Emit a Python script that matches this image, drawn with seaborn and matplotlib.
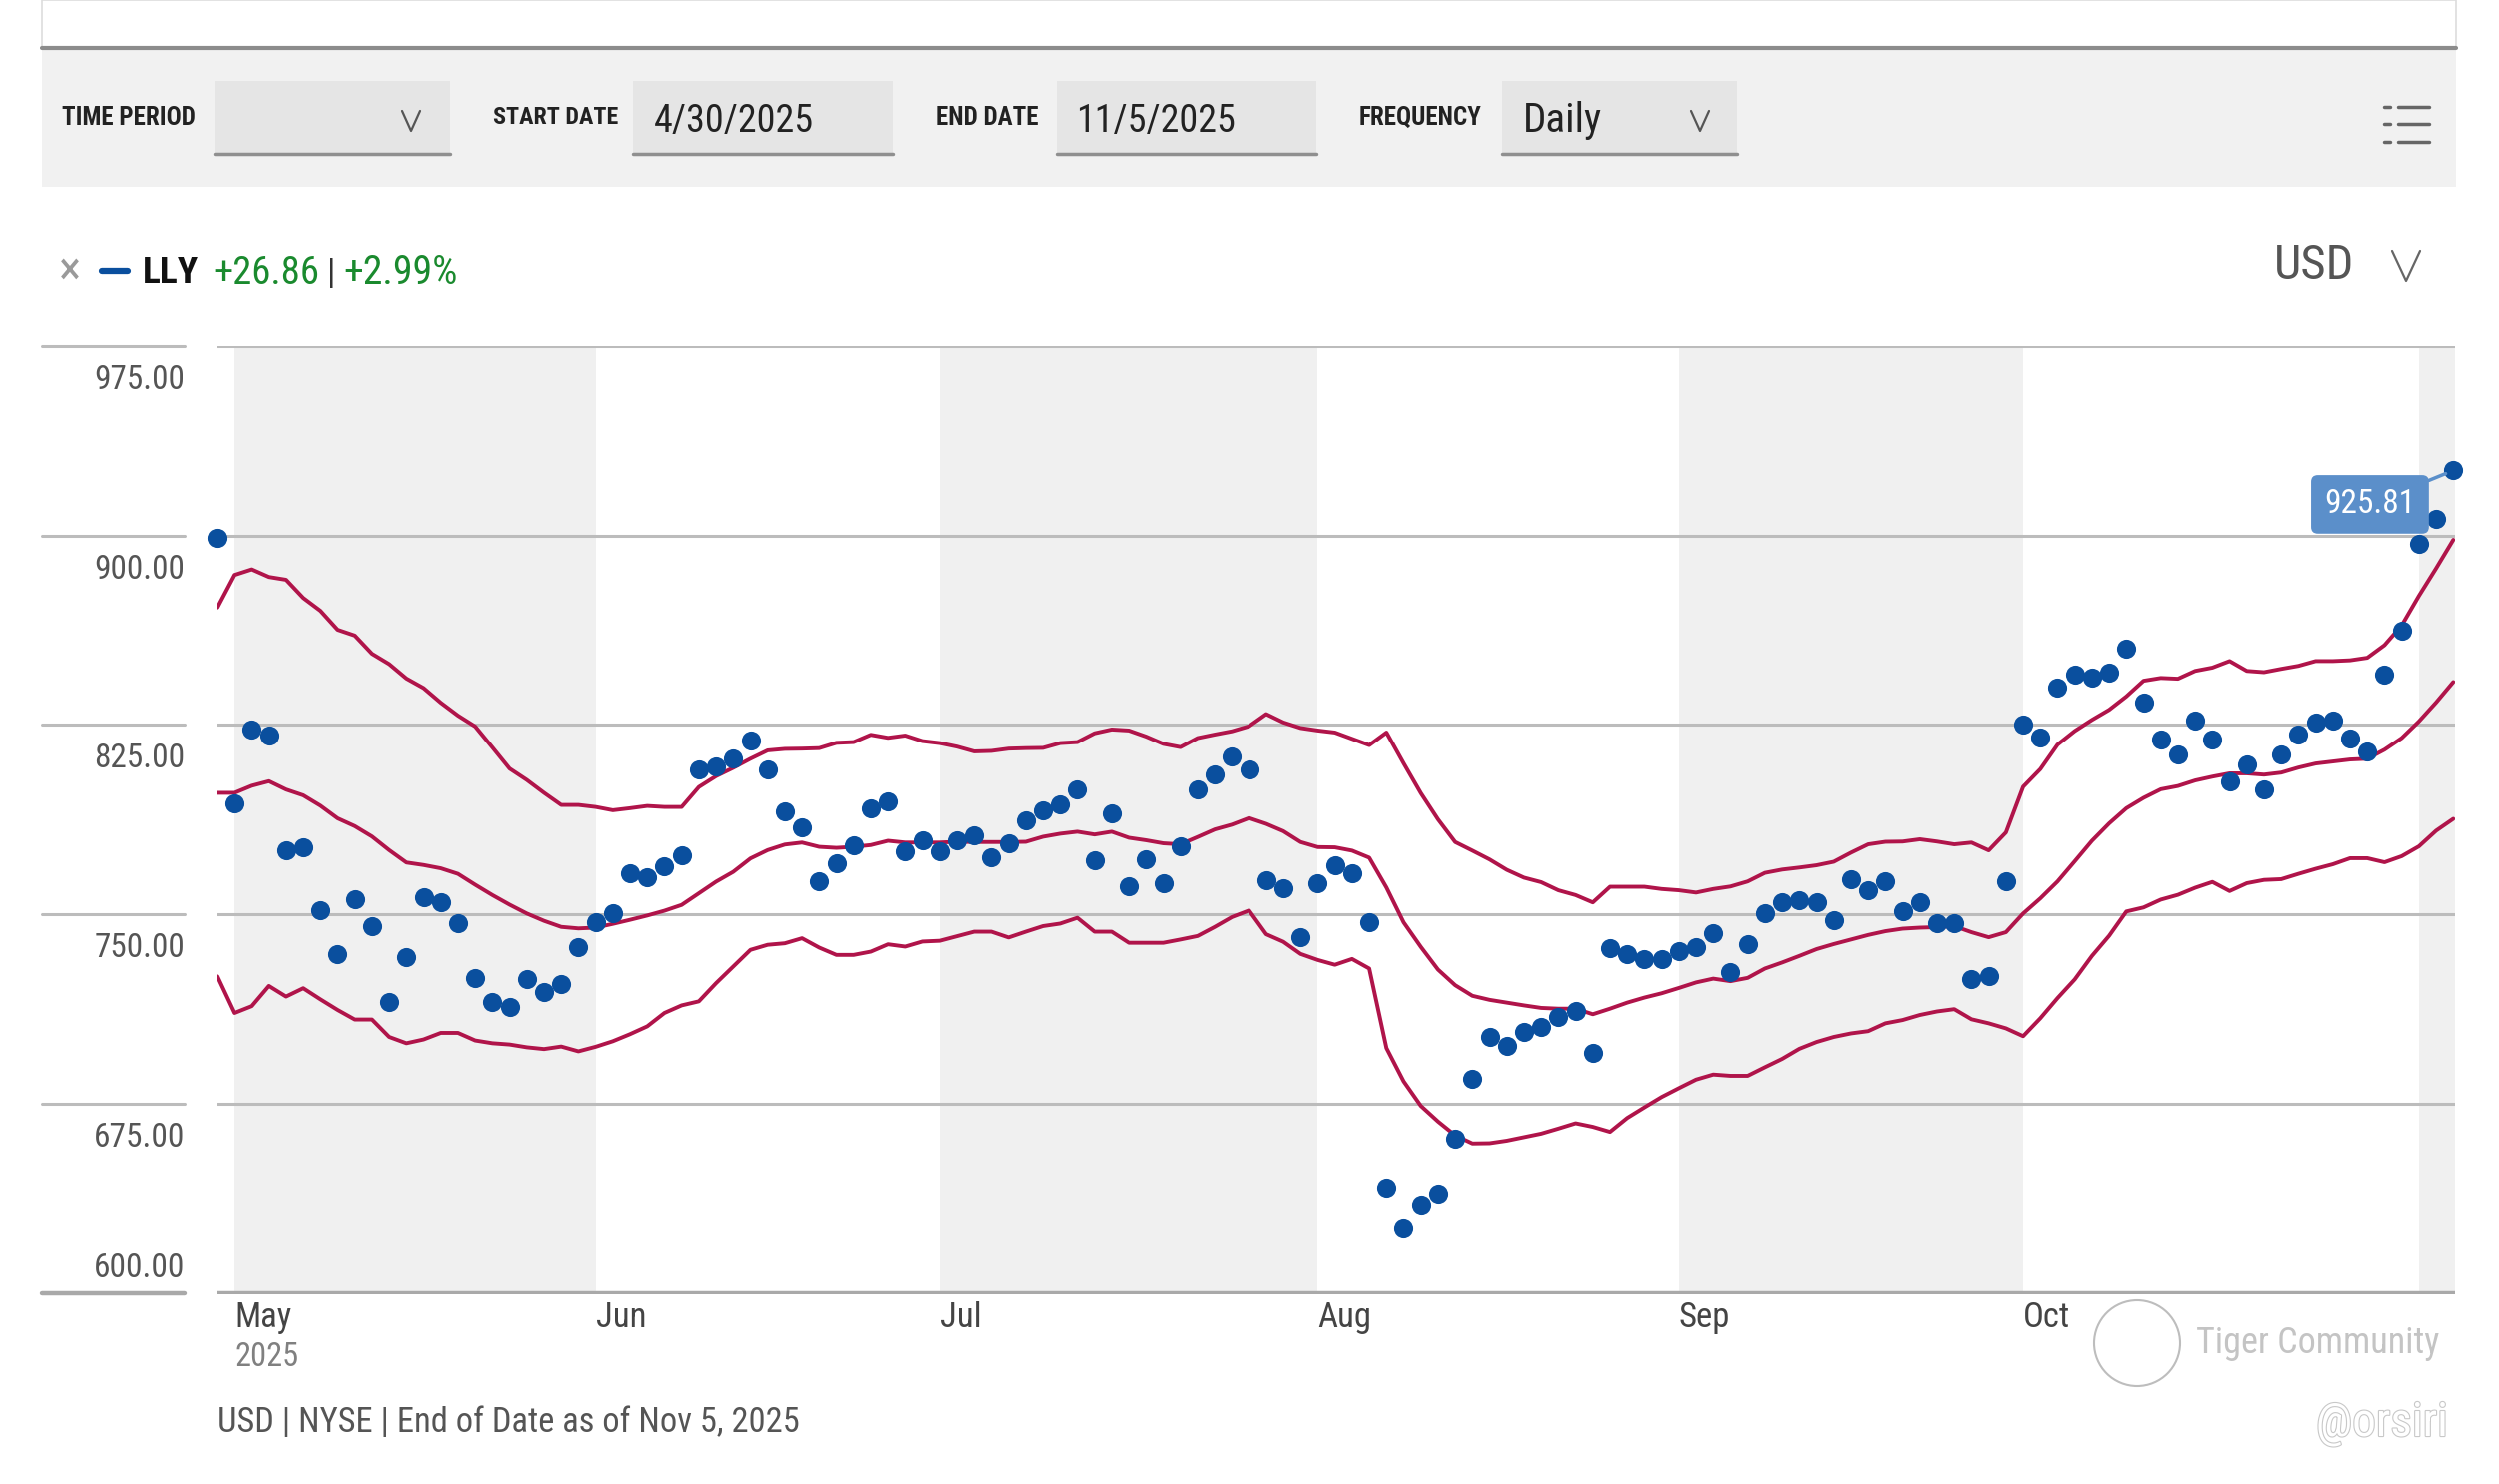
import numpy as np
import pandas as pd
import seaborn as sns
import matplotlib.pyplot as plt
from matplotlib import transforms
from matplotlib.patches import Rectangle, Ellipse
from matplotlib.lines import Line2D
import matplotlib.patheffects as pe

# LLY daily close, 4/30/2025 -> 11/5/2025 (one value per trading day)
close = [898.95, 794.0, 823.2, 820.9, 775.4, 776.6, 751.5, 734.1, 755.8, 745.3,
         715.1, 733.0, 756.9, 754.9, 746.5, 724.7, 715.1, 713.1, 724.5, 719.2,
         722.2, 737.1, 746.7, 750.6, 766.2, 764.6, 769.2, 773.4, 807.4, 808.6,
         811.6, 818.8, 807.4, 790.9, 784.6, 762.9, 770.4, 777.4, 791.8, 794.9,
         775.0, 779.3, 775.0, 779.3, 781.2, 772.5, 778.1, 787.1, 791.1, 793.4,
         799.5, 771.5, 790.1, 761.3, 771.8, 762.4, 776.8, 799.3, 805.4, 812.7,
         807.4, 763.3, 760.3, 740.8, 762.4, 769.4, 766.2, 746.8, 641.6, 626.0,
         635.1, 639.5, 661.0, 684.8, 701.4, 697.7, 703.2, 705.3, 709.2, 711.8,
         694.9, 736.4, 734.3, 732.3, 732.3, 735.3, 737.1, 742.7, 727.1, 738.2,
         750.3, 754.7, 755.6, 754.7, 747.6, 763.9, 759.7, 763.0, 751.2, 754.7,
         746.3, 746.3, 724.4, 725.5, 763.0, 825.3, 819.9, 839.6, 845.0, 843.6,
         845.9, 855.3, 833.9, 819.1, 813.1, 826.6, 819.1, 802.7, 809.2, 799.5,
         813.1, 821.4, 825.8, 826.6, 819.8, 814.4, 844.8, 862.5, 896.9, 906.6,
         925.81]

# Bollinger bands as drawn on the chart
upper = [871.5, 884.4, 886.6, 883.6, 882.5, 875.3, 870.2, 862.7, 860.4, 853.2,
         849.1, 843.4, 839.6, 833.8, 828.7, 824.4, 816.1, 807.7, 803.2, 798.1,
         793.3, 793.3, 792.5, 791.2, 792.0, 792.9, 792.5, 792.5, 800.4, 804.7,
         808.0, 811.6, 814.9, 815.5, 815.6, 815.8, 817.9, 818.2, 821.1, 819.9,
         820.8, 818.6, 817.8, 816.4, 814.5, 814.7, 815.6, 815.8, 815.9, 817.8,
         818.2, 821.7, 823.2, 822.8, 820.4, 817.5, 816.2, 819.8, 821.2, 822.5,
         824.5, 829.3, 826.0, 823.8, 822.8, 822.0, 819.5, 817.0, 822.0, 809.8,
         798.0, 787.6, 778.6, 775.2, 771.7, 767.6, 764.5, 762.7, 759.5, 757.6,
         754.7, 760.9, 760.9, 760.9, 760.0, 759.5, 758.6, 760.0, 761.0, 763.0,
         766.4, 767.7, 768.5, 769.4, 770.8, 774.4, 777.7, 778.7, 778.8, 779.7,
         778.8, 777.7, 778.4, 775.3, 782.4, 800.5, 807.5, 817.2, 822.6, 827.0,
         831.0, 836.3, 842.5, 843.6, 843.3, 846.4, 847.7, 850.3, 846.4, 845.9,
         847.2, 848.4, 850.3, 850.3, 850.6, 851.6, 856.6, 864.4, 876.1, 887.0,
         898.3]

middle = [798.1, 798.1, 800.9, 802.7, 799.4, 797.1, 793.0, 788.0, 784.9, 780.8,
          775.4, 770.5, 769.5, 768.2, 766.0, 761.7, 757.6, 753.8, 750.3, 747.4,
          745.0, 744.4, 744.7, 746.2, 747.8, 749.5, 751.4, 753.7, 758.3, 762.9,
          766.8, 772.1, 775.4, 777.6, 778.4, 776.7, 776.3, 776.7, 777.4, 779.1,
          778.4, 778.4, 778.4, 778.7, 778.6, 778.6, 778.6, 778.7, 780.7, 781.9,
          782.7, 781.6, 782.7, 780.3, 779.3, 778.1, 777.7, 780.6, 783.6, 785.5,
          788.1, 785.8, 782.9, 778.6, 776.6, 776.5, 775.2, 772.4, 760.6, 746.8,
          737.1, 728.1, 721.9, 717.7, 716.1, 715.0, 713.9, 712.9, 712.6, 712.6,
          710.4, 712.6, 715.0, 717.0, 718.7, 720.8, 723.0, 724.5, 723.5, 724.8,
          728.5, 730.9, 733.5, 736.2, 738.2, 740.0, 741.8, 743.3, 744.3, 744.7,
          744.9, 745.3, 742.9, 740.9, 742.9, 750.3, 756.3, 763.0, 771.0, 779.1,
          786.0, 792.0, 796.1, 799.5, 800.8, 803.0, 804.5, 805.8, 805.8, 805.3,
          806.1, 808.1, 809.7, 810.5, 811.3, 811.6, 815.2, 819.8, 826.4, 833.9,
          842.0]

lower = [725.4, 710.9, 713.6, 721.6, 717.4, 720.7, 716.3, 712.1, 708.3, 708.3,
         701.4, 698.9, 700.4, 703.0, 703.0, 700.0, 698.9, 698.4, 697.3, 696.6,
         697.6, 695.7, 697.5, 699.7, 702.5, 705.6, 710.9, 713.9, 715.5, 722.7,
         729.3, 735.9, 737.9, 738.5, 740.5, 736.8, 733.9, 733.9, 735.2, 738.1,
         737.2, 739.2, 739.5, 741.3, 743.1, 743.1, 740.8, 743.1, 745.3, 746.3,
         748.6, 743.1, 743.1, 738.7, 738.7, 738.7, 740.0, 741.4, 745.0, 748.9,
         751.5, 742.1, 739.1, 734.3, 731.9, 730.0, 732.3, 728.5, 697.0, 683.8,
         674.1, 667.9, 662.4, 659.2, 659.3, 660.3, 661.7, 663.1, 665.1, 667.2,
         665.8, 663.8, 669.3, 673.5, 677.6, 681.1, 684.5, 686.5, 686.0, 686.0,
         689.4, 692.7, 696.7, 699.4, 701.4, 702.8, 703.7, 706.8, 708.1, 710.1,
         711.5, 712.4, 708.4, 706.8, 704.8, 701.7, 708.8, 716.8, 724.2, 733.5,
         741.5, 751.1, 752.7, 755.8, 757.7, 760.5, 762.8, 759.2, 762.3, 763.6,
         763.9, 766.0, 768.0, 769.8, 772.2, 772.2, 770.6, 773.0, 776.9, 783.1,
         787.8]

month_labels = ["May", "Jun", "Jul", "Aug", "Sep", "Oct"]
month_start = [1, 22, 42, 64, 85, 105, 128]   # index of first trading day (last one = Nov)
y_ticks = [600, 675, 750, 825, 900, 975]

df = pd.DataFrame({"day": np.arange(len(close)), "close": close,
                   "upper": upper, "middle": middle, "lower": lower})

sns.set_theme(style="white")
# condensed faces first, whichever is installed gets used
plt.rcParams["font.family"] = ["Liberation Sans Narrow", "Roboto Condensed",
                               "Roboto", "DejaVu Sans"]

W, H = 2500, 1485
fig = plt.figure(figsize=(W / 100, H / 100), dpi=100)
renderer = fig.canvas.get_renderer()


def fx(px):
    return px / W


def fy(py):
    return 1 - py / H


def fit(t, target_w):
    # shrink a text so it is not much wider than in the reference
    w = t.get_window_extent(renderer).width
    if w > target_w * 1.06:
        t.set_fontsize(t.get_fontsize() * target_w * 1.06 / w)
    return t


def right_end(t):
    return t.get_window_extent(renderer).x1


def chevron(x, y, w=18, h=20, color="#555555"):
    fig.add_artist(Line2D([fx(x - w / 2), fx(x), fx(x + w / 2)],
                          [fy(y - h / 2), fy(y + h / 2), fy(y - h / 2)],
                          transform=fig.transFigure, color=color, lw=1.6))


# header box and toolbar
fig.add_artist(Rectangle((fx(42), fy(48)), fx(2457) - fx(42), fy(0) - fy(48),
                         transform=fig.transFigure, fc="white", ec="#dddddd", lw=1.2))
fig.add_artist(Rectangle((fx(42), fy(187)), fx(2457) - fx(42), fy(50) - fy(187),
                         transform=fig.transFigure, fc="#f1f1f1", ec="none"))
fig.add_artist(Line2D([fx(42), fx(2457)], [fy(48), fy(48)], transform=fig.transFigure,
                      color="#8c8c8c", lw=3))

for x0, x1 in [(215, 450), (633, 893), (1057, 1317), (1503, 1738)]:
    fig.add_artist(Rectangle((fx(x0), fy(155)), fx(x1) - fx(x0), fy(81) - fy(155),
                             transform=fig.transFigure, fc="#e5e5e5", ec="none"))
    fig.add_artist(Line2D([fx(x0), fx(x1)], [fy(154), fy(154)], transform=fig.transFigure,
                          color="#8f8f8f", lw=2.5))

for label, x, w in [("TIME PERIOD", 62, 131), ("START DATE", 493, 118),
                    ("END DATE", 936, 99), ("FREQUENCY", 1360, 123)]:
    fit(fig.text(fx(x), fy(118), label, fontsize=18, fontweight="bold", color="#222222",
                 ha="left", va="center"), w)
for label, x, w in [("4/30/2025", 654, 151), ("11/5/2025", 1076, 151), ("Daily", 1524, 75)]:
    fit(fig.text(fx(x), fy(121), label, fontsize=30, color="#222222",
                 ha="left", va="center"), w)
chevron(411, 121)
chevron(1701, 121)

# list icon on the right of the toolbar
for y in [107, 124, 142]:
    fig.add_artist(Line2D([fx(2385), fx(2391)], [fy(y), fy(y)], transform=fig.transFigure,
                          color="#666666", lw=2.5))
    fig.add_artist(Line2D([fx(2399), fx(2430)], [fy(y), fy(y)], transform=fig.transFigure,
                          color="#666666", lw=2.5))

# series header row, pieces chained left to right
fig.text(fx(70), fy(271), "\u00d7", fontsize=34, color="#9a9a9a", ha="center", va="center")
fig.add_artist(Line2D([fx(102), fx(128)], [fy(271), fy(271)], transform=fig.transFigure,
                      color="#0a4f9e", lw=4.5))
x = 143
for s, color, weight, w, gap in [("LLY", "#111111", "bold", 53, 14),
                                 ("+26.86", "#1a8a2e", "normal", 100, 8),
                                 ("|", "#333333", "normal", 8, 8),
                                 ("+2.99%", "#1a8a2e", "normal", 108, 0)]:
    t = fit(fig.text(fx(x), fy(273), s, fontsize=29, color=color, fontweight=weight,
                     va="center"), w)
    x = right_end(t) + gap
fit(fig.text(fx(2275), fy(266), "USD", fontsize=35, color="#555555", va="center"), 80)
chevron(2407, 266, w=28, h=30, color="#666666")

# chart area
ax = fig.add_axes([fx(217), fy(1294.5), fx(2456) - fx(217), fy(346) - fy(1294.5)])
xmax = 130.1
ax.set_xlim(0, xmax)
ax.set_ylim(600, 975)

bounds = month_start + [xmax]
for k in range(0, len(month_start), 2):
    ax.axvspan(bounds[k], bounds[k + 1], color="#f0f0f0", lw=0, zorder=0)

for v in y_ticks:
    ax.axhline(v, color="#a9a9a9" if v == 600 else "#bcbcbc",
               lw=3.2 if v == 600 else 2.2, zorder=1)

band_color = "#b0144a"
for col in ["upper", "middle", "lower"]:
    sns.lineplot(data=df, x="day", y=col, ax=ax, color=band_color, lw=2.8,
                 estimator=None, sort=False, zorder=2)
sns.scatterplot(data=df, x="day", y="close", ax=ax, color="#0a4f9e", s=190,
                linewidth=0, zorder=3, clip_on=False)

ax.set_xticks([])
ax.set_yticks([])
ax.set_xlabel("")
ax.set_ylabel("")
for s in ax.spines.values():
    s.set_visible(False)

# y labels with gridline stubs on the left
ylab_tr = transforms.blended_transform_factory(fig.transFigure, ax.transData)
for v in y_ticks:
    fig.add_artist(Line2D([fx(42), fx(185)], [v, v], transform=ylab_tr,
                          color="#a9a9a9" if v == 600 else "#bcbcbc",
                          lw=3.2 if v == 600 else 2.2))
    t = ax.annotate(f"{v:.2f}", xy=(fx(185), v), xycoords=ylab_tr,
                    xytext=(0, 18 if v == 600 else -24.5), textcoords="offset points",
                    ha="right", va="center", fontsize=28, color="#555555",
                    annotation_clip=False)
    fit(t, 86)

# month labels
xlab_tr = transforms.blended_transform_factory(ax.transData, ax.transAxes)
for lab, pos in zip(month_labels, month_start):
    fit(ax.text(pos, -0.008, lab, transform=xlab_tr, ha="left", va="top",
                fontsize=25, color="#444444"), 56 if lab == "May" else 52)
fit(ax.text(month_start[0], -0.05, "2025", transform=xlab_tr, ha="left", va="top",
            fontsize=25, color="#808080"), 61)

# last value tag
ax.annotate(f"{close[-1]:.2f}", xy=(df["day"].iloc[-1], close[-1]),
            xytext=(-60, -24.5), textcoords="offset points", ha="center", va="center",
            color="white", fontsize=24,
            bbox=dict(boxstyle="round,pad=0.4,rounding_size=0.2", fc="#5b8fca", ec="none"),
            arrowprops=dict(arrowstyle="-", color="#5b8fca", lw=2.5, shrinkA=0, shrinkB=6),
            annotation_clip=False, zorder=5)

# footer and watermarks
fit(fig.text(fx(217), fy(1424), "USD | NYSE | End of Date as of Nov 5, 2025",
             fontsize=25, color="#555555", ha="left", va="center"), 552)
fig.add_artist(Ellipse((fx(2138), fy(1344)), 86 / W, 86 / H, transform=fig.transFigure,
                       fc="none", ec="#bdbdbd", lw=1.5))
fit(fig.text(fx(2197), fy(1344), "Tiger Community", fontsize=26, color="#c4c4c4",
             ha="left", va="center"), 250)
fit(fig.text(fx(2449), fy(1424), "@orsiri", fontsize=34, color="white", ha="right",
             va="center", path_effects=[pe.withStroke(linewidth=1.6, foreground="#c8c8c8")]),
    142)

fig.savefig("out.png", dpi=100)
